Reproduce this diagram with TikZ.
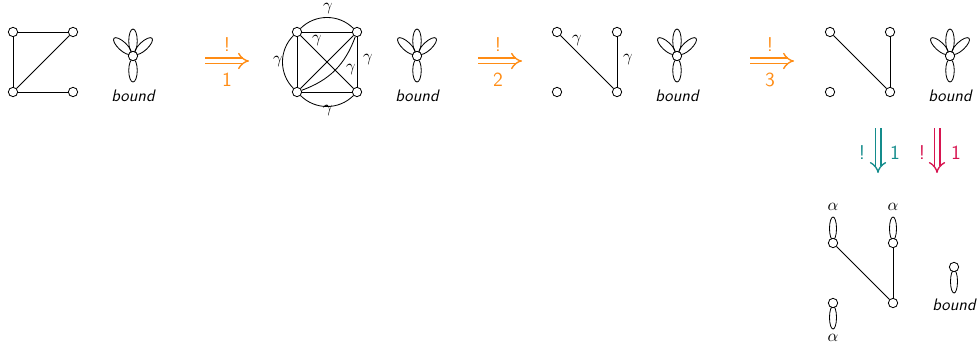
\documentclass[tikz,border=0pt]{standalone}
\usepackage{fontspec}
\usetikzlibrary{arrows.meta,calc}
\definecolor{arrOrange}{RGB}{255,140,20}
\definecolor{arrTeal}{RGB}{20,140,140}
\definecolor{arrRed}{RGB}{215,20,80}
\begin{document}
\begin{tikzpicture}[x=0.6pt,y=-0.6pt,
  v/.style={circle,draw,fill=white,inner sep=0pt,minimum size=5.6pt,line width=0.5pt},
  ed/.style={line width=0.5pt},
  petalstyle/.style={line width=0.5pt},
  lbl/.style={font=\itshape\sffamily,inner sep=0pt},
  glab/.style={inner sep=0pt},
  darr/.style={double,double distance=2.6pt,line width=0.8pt,-{Implies[scale=1.3]}},
  alab/.style={inner sep=0pt,font=\sffamily\large}]
\useasboundingbox (0,0) rectangle (979,344);
\newcommand{\petal}[5]{% center, angle, start, length, width
  \path (#1) ++(#2:#3*0.6pt+#4/2*0.6pt) coordinate (pc);
  \draw[petalstyle,rotate around={#2:(pc)}] (pc) ellipse [x radius=#4/2*0.6pt, y radius=#5/2*0.6pt];}
\newcommand{\flower}[2]{% name, position
  \coordinate (#1c) at #2;
  \petal{#1c}{90}{3}{24}{8.5}
  \petal{#1c}{137}{3}{23}{8.5}
  \petal{#1c}{43}{3}{23}{8.5}
  \petal{#1c}{270}{3}{23}{8.5}
  \node[v] (#1) at (#1c) {};
  \node[lbl] (#1b) at ($(#1c)+(0,40)$) {bound};}

% graph 1
\node[v] (a1) at (13,32) {};
\node[v] (b1) at (73,32) {};
\node[v] (c1) at (13,92) {};
\node[v] (d1) at (73,92) {};
\draw[ed] (a1) -- (b1);
\draw[ed] (a1) -- (c1);
\draw[ed] (c1) -- (b1);
\draw[ed] (c1) -- (d1);
\flower{f1}{(133,56)}

% arrow 1
\coordinate (s1) at (205,61);
\coordinate (e1) at (249,61);
\draw[darr,arrOrange] (s1) -- (e1);
\node[alab,text=arrOrange] (x1) at (227,45) {!};
\node[alab,text=arrOrange] (n1) at (227,80) {1};

% graph 2
\node[v] (a2) at (297,32) {};
\node[v] (b2) at (357,32) {};
\node[v] (c2) at (297,92) {};
\node[v] (d2) at (357,92) {};
\draw[ed] (a2) -- (b2);
\draw[ed] (a2) -- (c2);
\draw[ed] (c2) -- (d2);
\draw[ed] (b2) -- (d2);
\draw[ed] (a2) -- (d2);
\draw[ed] (c2) -- (b2);
\draw[ed] (a2) to[bend left=45] (b2);
\draw[ed] (c2) to[bend left=45] (a2);
\draw[ed] (d2) to[bend left=45] (c2);
\draw[ed] (c2) to[bend right=25] (b2);
\node[glab] (g21) at (328,9) {$\gamma$};
\node[glab] (g22) at (278,62) {$\gamma$};
\node[glab] (g23) at (328,111) {$\gamma$};
\node[glab] (g24) at (368,60) {$\gamma$};
\node[glab] (g25) at (317,41) {$\gamma$};
\node[glab] (g26) at (351,70) {$\gamma$};
\flower{f2}{(417,56)}

% arrow 2
\coordinate (s2) at (478,61);
\coordinate (e2) at (522,61);
\draw[darr,arrOrange] (s2) -- (e2);
\node[alab,text=arrOrange] (x2) at (498,45) {!};
\node[alab,text=arrOrange] (n2) at (498,80) {2};

% graph 3
\node[v] (a3) at (557,32) {};
\node[v] (b3) at (617,32) {};
\node[v] (c3) at (557,92) {};
\node[v] (d3) at (617,92) {};
\draw[ed] (a3) -- (d3);
\draw[ed] (b3) -- (d3);
\node[glab] (g31) at (577,41) {$\gamma$};
\node[glab] (g32) at (628,60) {$\gamma$};
\flower{f3}{(677,56)}

% arrow 3
\coordinate (s3) at (750,61);
\coordinate (e3) at (794,61);
\draw[darr,arrOrange] (s3) -- (e3);
\node[alab,text=arrOrange] (x3) at (770,45) {!};
\node[alab,text=arrOrange] (n3) at (770,80) {3};

% graph 4
\node[v] (a4) at (830,32) {};
\node[v] (b4) at (890,32) {};
\node[v] (c4) at (830,92) {};
\node[v] (d4) at (890,92) {};
\draw[ed] (a4) -- (d4);
\draw[ed] (b4) -- (d4);
\flower{f4}{(950,56)}

% down arrows
\coordinate (s4) at (878,128);
\coordinate (e4) at (878,173);
\draw[darr,arrTeal] (s4) -- (e4);
\node[alab,text=arrTeal] (x4) at (862,153) {!};
\node[alab,text=arrTeal] (n4) at (895,153) {1};
\coordinate (s5) at (937,128);
\coordinate (e5) at (937,173);
\draw[darr,arrRed] (s5) -- (e5);
\node[alab,text=arrRed] (x5) at (922,153) {!};
\node[alab,text=arrRed] (n5) at (956,153) {1};

% graph 5
\coordinate (a5c) at (833,243);
\coordinate (b5c) at (893,243);
\coordinate (c5c) at (833,303);
\coordinate (e5c) at (954,267);
\petal{a5c}{90}{3}{23}{7}
\petal{b5c}{90}{3}{23}{7}
\petal{c5c}{270}{3}{23}{7}
\petal{e5c}{270}{3}{23}{7}
\node[v] (a5) at (a5c) {};
\node[v] (b5) at (b5c) {};
\node[v] (c5) at (c5c) {};
\node[v] (d5) at (893,303) {};
\node[v] (e5n) at (e5c) {};
\draw[ed] (a5) -- (d5);
\draw[ed] (b5) -- (d5);
\node[glab] (al1) at (833,207) {$\alpha$};
\node[glab] (al2) at (893,207) {$\alpha$};
\node[glab] (al3) at (833,338) {$\alpha$};
\node[lbl] (bd5) at (954,305) {bound};
\end{tikzpicture}
\end{document}
